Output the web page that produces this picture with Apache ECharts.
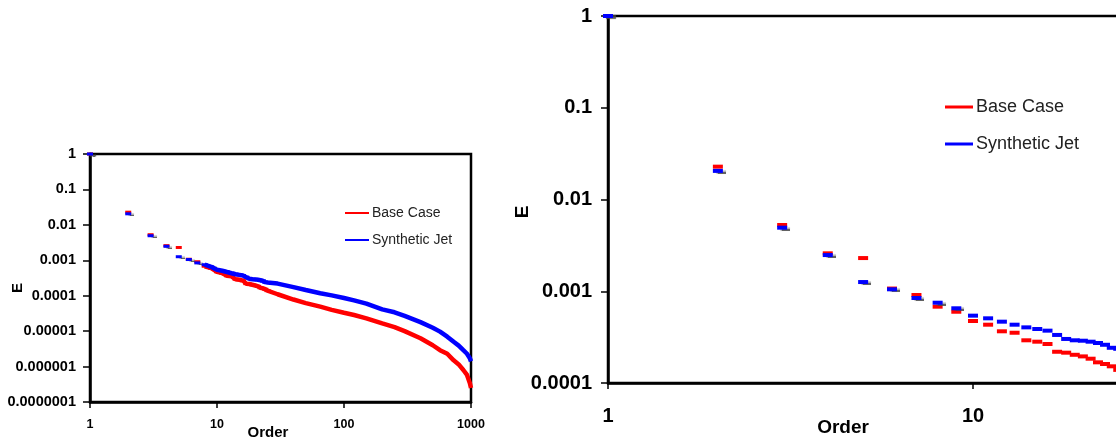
<!DOCTYPE html>
<html>

<head>
    <title>Order vs E</title>
    <meta charset="utf-8">
    <script src="https://cdn.jsdelivr.net/npm/echarts@6/dist/echarts.min.js"></script>
    <style>
        html, body { margin: 0; padding: 0; background: #fff; }
    </style>
</head>

<body>
    <div id="orderChart" style="width: 1116px;height:441px;"></div>
    <script>
        // integer orders
        var order = [1, 2, 3, 4, 5, 6, 7, 8, 9, 10, 11, 12, 13, 14, 15, 16, 17, 18, 19, 20, 21, 22, 23, 24, 25];
        var baseCase = [1, 0.0228, 0.00527, 0.00259, 0.00230, 0.00107, 0.000910, 0.000679, 0.000598, 0.000474,
            0.000432, 0.000366, 0.000353, 0.000292, 0.000282, 0.000266, 0.000219, 0.000214, 0.000203, 0.000195,
            0.000184, 0.000168, 0.000161, 0.000152, 0.000139];
        var syntheticJet = [1, 0.0205, 0.00493, 0.00248, 0.00126, 0.00105, 0.000844, 0.000750, 0.000652, 0.000542,
            0.000507, 0.000466, 0.000432, 0.000404, 0.000388, 0.000372, 0.000334, 0.000302, 0.000292, 0.000289,
            0.000282, 0.000273, 0.000261, 0.000242, 0.000236];

        // dense tail, only seen in the small panel
        var tailOrder = [30, 40, 50, 65, 80, 100, 120, 150, 200, 250, 300, 400, 500, 570, 650, 730, 800, 870, 930, 980, 1000];
        var baseTail = [1.1e-4, 7.8e-5, 6.2e-5, 4.9e-5, 4.0e-5, 3.3e-5, 2.85e-5, 2.3e-5, 1.65e-5, 1.3e-5, 1.0e-5,
            6.3e-6, 4.0e-6, 2.9e-6, 2.3e-6, 1.5e-6, 1.15e-6, 8.0e-7, 5.8e-7, 3.4e-7, 2.5e-7];
        var jetTail = [2.2e-4, 1.75e-4, 1.45e-4, 1.17e-4, 1.02e-4, 8.6e-5, 7.4e-5, 6.0e-5, 4.1e-5, 3.4e-5, 2.7e-5,
            1.8e-5, 1.25e-5, 9.7e-6, 7.0e-6, 5.0e-6, 3.9e-6, 2.9e-6, 2.3e-6, 1.7e-6, 1.4e-6];

        var yTickLabels = ['1', '0.1', '0.01', '0.001', '0.0001', '0.00001', '0.000001', '0.0000001'];
        var xTickLabels = ['1', '10', '100', '1000'];
        var seriesNames = ['Base Case', 'Synthetic Jet'];

        var RED = '#ff0000';
        var BLUE = '#0000ff';
        var FONT = 'Liberation Sans';

        function yLabel(v) { return yTickLabels[-Math.round(Math.log10(v))]; }
        function xLabel(v) { return xTickLabels[Math.round(Math.log10(v))]; }

        function pairs(xs, ys) { return xs.map((x, i) => [x, ys[i]]); }
        // points with the grey drop shadow seen on the first few markers
        function shadowed(xs, ys) {
            return xs.map((x, i) => i < 9 ? {
                value: [x, ys[i]],
                itemStyle: { shadowColor: 'rgba(70,70,70,0.85)', shadowOffsetX: 3, shadowOffsetY: 1, shadowBlur: 1 }
            } : [x, ys[i]]);
        }
        function tail(xs, ys, tx, ty) {
            return pairs(xs.slice(7), ys.slice(7)).concat(pairs(tx, ty));
        }

        function makeXAxis(grid, max, size, margin) {
            return {
                type: 'log', gridIndex: grid, min: 1, max: max,
                axisLine: { show: true, lineStyle: { color: '#000', width: 2.5 } },
                axisTick: { show: true, length: 6, lineStyle: { color: '#000', width: 1.5 } },
                minorTick: { show: false },
                splitLine: { show: false },
                axisLabel: { formatter: xLabel, color: '#000', fontFamily: FONT, fontWeight: 'bold', fontSize: size, margin: margin }
            };
        }
        function makeYAxis(grid, min, size, margin) {
            return {
                type: 'log', gridIndex: grid, min: min, max: 1,
                axisLine: { show: true, lineStyle: { color: '#000', width: 2.5 } },
                axisTick: { show: true, length: 7, lineStyle: { color: '#000', width: 1.5 } },
                minorTick: { show: false },
                splitLine: { show: false },
                axisLabel: { formatter: yLabel, color: '#000', fontFamily: FONT, fontWeight: 'bold', fontSize: size, margin: margin }
            };
        }
        function makeLegend(left, top, size, gap) {
            return {
                data: seriesNames, orient: 'vertical', left: left, top: top,
                icon: 'rect', itemWidth: size > 15 ? 28 : 24, itemHeight: size > 15 ? 3 : 2, itemGap: gap,
                selectedMode: false,
                textStyle: { color: '#222', fontFamily: FONT, fontSize: size, lineHeight: size + 4, padding: [0, 0, 0, -2] }
            };
        }
        function titleText(x, y, text, size, rotate) {
            return {
                type: 'text', x: x, y: y, rotation: rotate ? Math.PI / 2 : 0,
                style: { text: text, fill: '#000', font: 'bold ' + size + 'px "' + FONT + '"', align: 'center', verticalAlign: 'middle' }
            };
        }

        var chart = echarts.init(document.getElementById('orderChart'));
        var option = {
            animation: false,
            backgroundColor: '#fff',
            grid: [
                { left: 90, top: 154, width: 381, height: 248, show: true, borderColor: '#000', borderWidth: 2.5, backgroundColor: 'transparent', outerBoundsMode: 'none' },
                { left: 608, top: 16, width: 1095, height: 367, show: true, borderColor: '#000', borderWidth: 2.5, backgroundColor: 'transparent', outerBoundsMode: 'none' }
            ],
            xAxis: [makeXAxis(0, 1000, 12.5, 16), makeXAxis(1, 1000, 20, 23)],
            yAxis: [makeYAxis(0, 1e-7, 14.5, 14), makeYAxis(1, 1e-4, 20, 16)],
            legend: [makeLegend(340, 199, 14, 9), makeLegend(940, 91, 18, 15)],
            graphic: [
                titleText(18, 288, 'E', 15, true),
                titleText(268, 433, 'Order', 15, false),
                titleText(523, 212, 'E', 19, true),
                titleText(843, 428, 'Order', 19, false)
            ],
            series: [
                {
                    name: seriesNames[0], type: 'scatter', xAxisIndex: 0, yAxisIndex: 0,
                    symbol: 'rect', symbolSize: [6, 3], itemStyle: { color: RED, opacity: 1 },
                    data: pairs(order, baseCase)
                },
                {
                    name: seriesNames[0], type: 'line', xAxisIndex: 0, yAxisIndex: 0,
                    showSymbol: false, lineStyle: { color: RED, width: 4.5 }, itemStyle: { color: RED },
                    data: tail(order, baseCase, tailOrder, baseTail)
                },
                {
                    name: seriesNames[1], type: 'scatter', xAxisIndex: 0, yAxisIndex: 0,
                    symbol: 'rect', symbolSize: [6, 3], itemStyle: { color: BLUE, opacity: 1 },
                    data: shadowed(order, syntheticJet)
                },
                {
                    name: seriesNames[1], type: 'line', xAxisIndex: 0, yAxisIndex: 0,
                    showSymbol: false, lineStyle: { color: BLUE, width: 4.5 }, itemStyle: { color: BLUE },
                    data: tail(order, syntheticJet, tailOrder, jetTail)
                },
                {
                    name: seriesNames[0], type: 'scatter', xAxisIndex: 1, yAxisIndex: 1,
                    symbol: 'rect', symbolSize: [10, 4], itemStyle: { color: RED, opacity: 1 },
                    data: pairs(order, baseCase)
                },
                {
                    name: seriesNames[1], type: 'scatter', xAxisIndex: 1, yAxisIndex: 1,
                    symbol: 'rect', symbolSize: [10, 4], itemStyle: { color: BLUE, opacity: 1 },
                    data: shadowed(order, syntheticJet)
                }
            ]
        };
        chart.setOption(option);
    </script>
</body>

</html>
